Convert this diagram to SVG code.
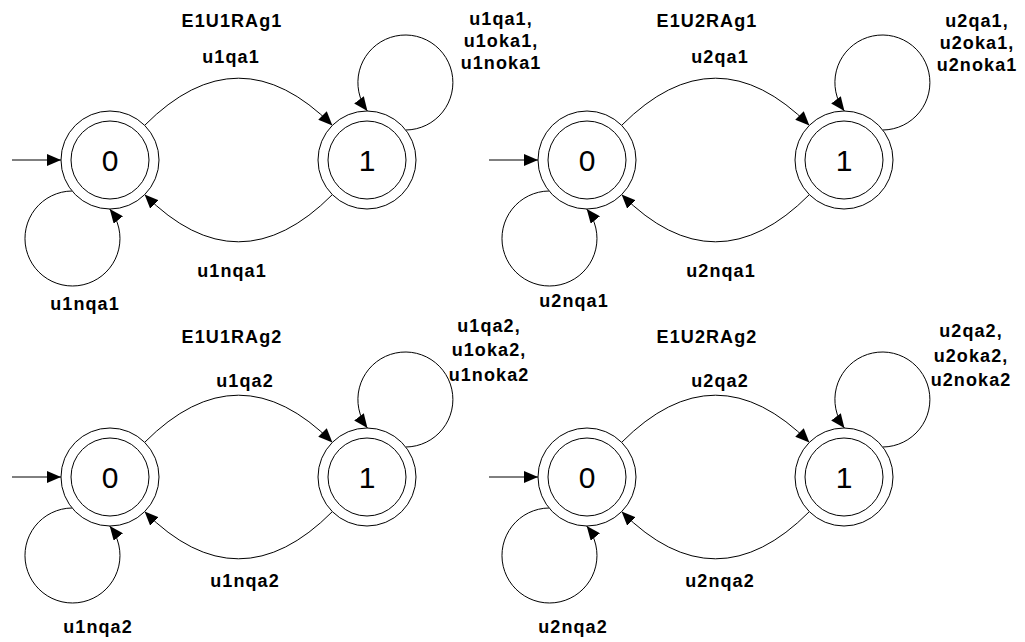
<svg xmlns="http://www.w3.org/2000/svg" width="1025" height="642" viewBox="0 0 1025 642">
<defs>
<marker id="arr" markerUnits="userSpaceOnUse" viewBox="0 0 14 12" refX="14" refY="6" markerWidth="14" markerHeight="12" orient="auto">
<path d="M0,0 L14,6 L0,12 z" fill="#000"/>
</marker>
</defs>
<style>
.ring{fill:#fff;stroke:#000;stroke-width:1}
.st{font-family:"Liberation Sans",Arial,sans-serif;font-size:30px;text-anchor:middle;fill:#000}
.edge{fill:none;stroke:#000;stroke-width:1;marker-end:url(#arr)}
.lbl{font-family:"Liberation Sans",Arial,sans-serif;font-size:18px;font-weight:bold;letter-spacing:1.1px;text-anchor:middle;fill:#000}
</style>
<rect width="1025" height="642" fill="#fff"/>

<g id="connectors">
<!-- A1 -->
<path class="edge" d="M12,160 H61"/>
<path class="edge" d="M144.6,125.4 Q238.5,31 332.4,125.4"/>
<path class="edge" d="M332.4,194.6 Q238.5,289 144.6,194.6"/>
<path class="edge" d="M72.06,191 A47.5,47.5 0 1 0 109.7,209"/>
<path class="edge" d="M405.8,130 A47.5,47.5 0 1 0 367.4,111"/>
<!-- A2 -->
<path class="edge" d="M489,160 H538"/>
<path class="edge" d="M621.6,125.4 Q715.5,31 809.4,125.4"/>
<path class="edge" d="M809.4,194.6 Q715.5,289 621.6,194.6"/>
<path class="edge" d="M549.06,191 A47.5,47.5 0 1 0 586.7,209"/>
<path class="edge" d="M882.8,130 A47.5,47.5 0 1 0 844.4,111"/>
<!-- A3 -->
<path class="edge" d="M12,477 H61"/>
<path class="edge" d="M144.6,442.4 Q238.5,348 332.4,442.4"/>
<path class="edge" d="M332.4,511.6 Q238.5,606 144.6,511.6"/>
<path class="edge" d="M72.06,508 A47.5,47.5 0 1 0 109.7,526"/>
<path class="edge" d="M405.8,447 A47.5,47.5 0 1 0 367.4,428"/>
<!-- A4 -->
<path class="edge" d="M489,477 H538"/>
<path class="edge" d="M621.6,442.4 Q715.5,348 809.4,442.4"/>
<path class="edge" d="M809.4,511.6 Q715.5,606 621.6,511.6"/>
<path class="edge" d="M549.06,508 A47.5,47.5 0 1 0 586.7,526"/>
<path class="edge" d="M882.8,447 A47.5,47.5 0 1 0 844.4,428"/>
</g>

<g id="labels">
<text class="lbl" x="232" y="27">E1U1RAg1</text>
<text class="lbl" x="231" y="63">u1qa1</text>
<text class="lbl" x="232" y="277">u1nqa1</text>
<text class="lbl" x="85" y="310">u1nqa1</text>
<text class="lbl" x="501" y="25">u1qa1,</text>
<text class="lbl" x="501" y="47">u1oka1,</text>
<text class="lbl" x="501" y="69">u1noka1</text>

<text class="lbl" x="707" y="27">E1U2RAg1</text>
<text class="lbl" x="720" y="63">u2qa1</text>
<text class="lbl" x="721" y="277">u2nqa1</text>
<text class="lbl" x="574" y="307">u2nqa1</text>
<text class="lbl" x="977" y="27">u2qa1,</text>
<text class="lbl" x="977" y="49">u2oka1,</text>
<text class="lbl" x="977" y="71">u2noka1</text>

<text class="lbl" x="232" y="343">E1U1RAg2</text>
<text class="lbl" x="245" y="387">u1qa2</text>
<text class="lbl" x="245" y="587">u1nqa2</text>
<text class="lbl" x="98" y="633">u1nqa2</text>
<text class="lbl" x="489" y="332">u1qa2,</text>
<text class="lbl" x="489" y="356">u1oka2,</text>
<text class="lbl" x="489" y="381">u1noka2</text>

<text class="lbl" x="707" y="343">E1U2RAg2</text>
<text class="lbl" x="720" y="387">u2qa2</text>
<text class="lbl" x="720" y="587">u2nqa2</text>
<text class="lbl" x="573" y="633">u2nqa2</text>
<text class="lbl" x="971" y="337">u2qa2,</text>
<text class="lbl" x="971" y="362">u2oka2,</text>
<text class="lbl" x="971" y="386">u2noka2</text>
</g>

<g id="a1-s0"><circle class="ring" cx="110" cy="160" r="49"/><circle class="ring" cx="110" cy="160" r="39"/><text class="st" x="110" y="171">0</text></g>
<g id="a1-s1"><circle class="ring" cx="367" cy="160" r="49"/><circle class="ring" cx="367" cy="160" r="39"/><text class="st" x="367" y="171">1</text></g>
<g id="a2-s0"><circle class="ring" cx="587" cy="160" r="49"/><circle class="ring" cx="587" cy="160" r="39"/><text class="st" x="587" y="171">0</text></g>
<g id="a2-s1"><circle class="ring" cx="844" cy="160" r="49"/><circle class="ring" cx="844" cy="160" r="39"/><text class="st" x="844" y="171">1</text></g>
<g id="a3-s0"><circle class="ring" cx="110" cy="477" r="49"/><circle class="ring" cx="110" cy="477" r="39"/><text class="st" x="110" y="488">0</text></g>
<g id="a3-s1"><circle class="ring" cx="367" cy="477" r="49"/><circle class="ring" cx="367" cy="477" r="39"/><text class="st" x="367" y="488">1</text></g>
<g id="a4-s0"><circle class="ring" cx="587" cy="477" r="49"/><circle class="ring" cx="587" cy="477" r="39"/><text class="st" x="587" y="488">0</text></g>
<g id="a4-s1"><circle class="ring" cx="844" cy="477" r="49"/><circle class="ring" cx="844" cy="477" r="39"/><text class="st" x="844" y="488">1</text></g>
</svg>
